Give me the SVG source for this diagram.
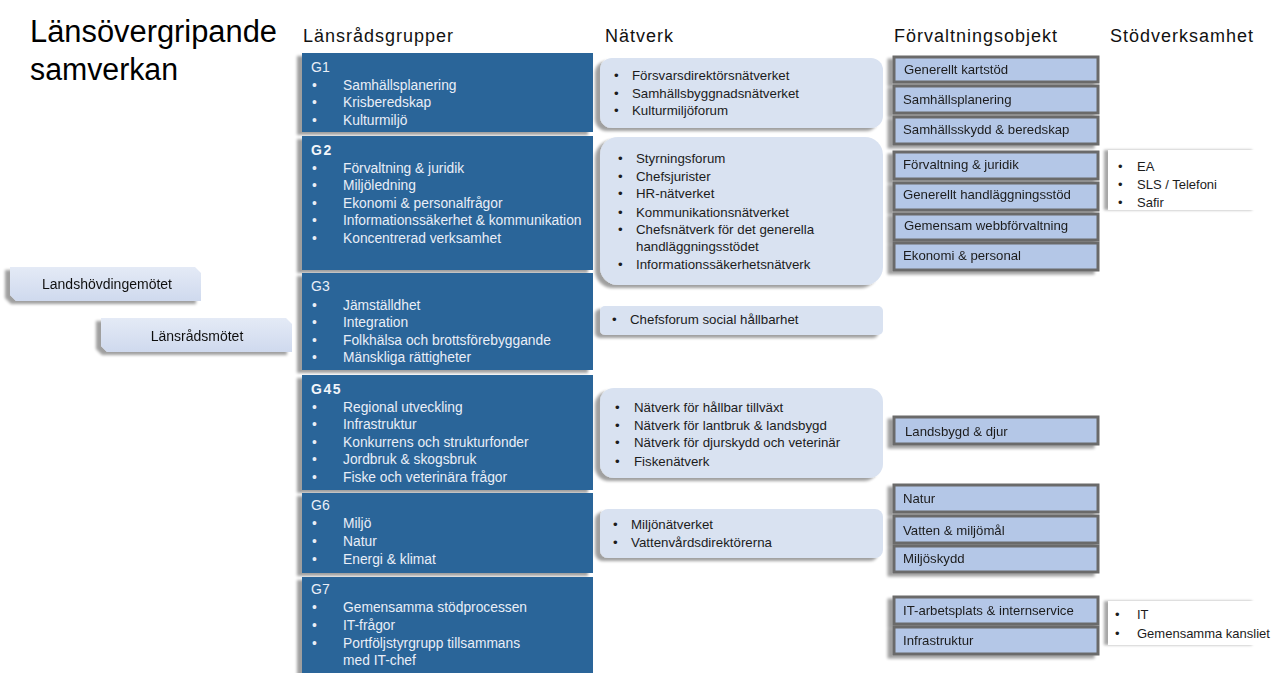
<svg xmlns="http://www.w3.org/2000/svg" width="1274" height="673" viewBox="0 0 1274 673">
<defs>
<filter id="sh" x="-20%" y="-30%" width="140%" height="180%">
<feGaussianBlur in="SourceAlpha" stdDeviation="1.5"/>
<feOffset dx="-5" dy="3" result="o"/>
<feComponentTransfer><feFuncA type="linear" slope="0.38"/></feComponentTransfer>
<feMerge><feMergeNode/><feMergeNode in="SourceGraphic"/></feMerge>
</filter>
<filter id="shl" x="-20%" y="-30%" width="140%" height="160%">
<feGaussianBlur in="SourceAlpha" stdDeviation="1.5"/>
<feOffset dx="-4" dy="0"/>
<feComponentTransfer><feFuncA type="linear" slope="0.35"/></feComponentTransfer>
<feMerge><feMergeNode/><feMergeNode in="SourceGraphic"/></feMerge>
</filter>
<linearGradient id="lg" x1="0" y1="0" x2="0" y2="1">
<stop offset="0" stop-color="#e4eaf6"/>
<stop offset="1" stop-color="#cfd9ee"/>
</linearGradient>
</defs>
<style>
text{font-family:"Liberation Sans",Arial,sans-serif;}
.title{font-size:31px;fill:#000;}
.hdr{font-size:18px;fill:#111;letter-spacing:1px;}
.grp{fill:#2b6599;}
.gt{font-size:13.8px;fill:#e9eef7;}
.gb{font-size:14px;fill:#f2f5fa;font-weight:bold;letter-spacing:1.5px;}
.gl{font-size:14px;fill:#e9eef7;}
.net{fill:#d9e2f1;}
.nt{font-size:13.3px;fill:#1c1c1c;}
.obj{fill:#b4c7e7;stroke:#6b6b6b;stroke-width:3;}
.ot{font-size:13.2px;fill:#1c1c1c;}
.meet{fill:url(#lg);}
.mt{font-size:14px;fill:#111;text-anchor:middle;}
.st{font-size:13px;fill:#1c1c1c;}
</style>
<rect width="1274" height="673" fill="#fff"/>

<g id="title">
<text class="title" x="30" y="42" textLength="247" lengthAdjust="spacingAndGlyphs">Länsövergripande</text>
<text class="title" x="30" y="80" textLength="148" lengthAdjust="spacingAndGlyphs">samverkan</text>
</g>

<g id="headers">
<text class="hdr" x="303" y="42">Länsrådsgrupper</text>
<text class="hdr" x="605" y="42">Nätverk</text>
<text class="hdr" x="894" y="42">Förvaltningsobjekt</text>
<text class="hdr" x="1110" y="42">Stödverksamhet</text>
</g>

<g id="meetings">
<g id="landshovdingemotet" filter="url(#sh)">
<path class="meet" d="M10,267 H195 L201,273 V301 H16 L10,295 Z"/>
<text class="mt" x="107" y="289">Landshövdingemötet</text>
</g>
<g id="lansradsmotet" filter="url(#sh)">
<path class="meet" d="M101,318 H286 L292,324 V352 H107 L101,346 Z"/>
<text class="mt" x="197" y="341">Länsrådsmötet</text>
</g>
</g>

<g id="groups">
<g id="G1">
<rect class="grp" x="302" y="53" width="291" height="79" filter="url(#sh)"/>
<text class="gl" x="311" y="72">G1</text>
<text class="gt" x="312" y="90">•</text><text class="gt" x="343" y="90">Samhällsplanering</text>
<text class="gt" x="312" y="107">•</text><text class="gt" x="343" y="107">Krisberedskap</text>
<text class="gt" x="312" y="125">•</text><text class="gt" x="343" y="125">Kulturmiljö</text>
</g>
<g id="G2">
<rect class="grp" x="302" y="136" width="291" height="134" filter="url(#sh)"/>
<text class="gb" x="311" y="155">G2</text>
<text class="gt" x="312" y="173">•</text><text class="gt" x="343" y="173">Förvaltning &amp; juridik</text>
<text class="gt" x="312" y="190">•</text><text class="gt" x="343" y="190">Miljöledning</text>
<text class="gt" x="312" y="208">•</text><text class="gt" x="343" y="208">Ekonomi &amp; personalfrågor</text>
<text class="gt" x="312" y="225">•</text><text class="gt" x="343" y="225">Informationssäkerhet &amp; kommunikation</text>
<text class="gt" x="312" y="243">•</text><text class="gt" x="343" y="243">Koncentrerad verksamhet</text>
</g>
<g id="G3">
<rect class="grp" x="302" y="273" width="291" height="97" filter="url(#sh)"/>
<text class="gl" x="311" y="291">G3</text>
<text class="gt" x="312" y="310">•</text><text class="gt" x="343" y="310">Jämställdhet</text>
<text class="gt" x="312" y="327">•</text><text class="gt" x="343" y="327">Integration</text>
<text class="gt" x="312" y="345">•</text><text class="gt" x="343" y="345">Folkhälsa och brottsförebyggande</text>
<text class="gt" x="312" y="362">•</text><text class="gt" x="343" y="362">Mänskliga rättigheter</text>
</g>
<g id="G45">
<rect class="grp" x="302" y="375" width="291" height="115" filter="url(#sh)"/>
<text class="gb" x="311" y="394">G45</text>
<text class="gt" x="312" y="412">•</text><text class="gt" x="343" y="412">Regional utveckling</text>
<text class="gt" x="312" y="429">•</text><text class="gt" x="343" y="429">Infrastruktur</text>
<text class="gt" x="312" y="447">•</text><text class="gt" x="343" y="447">Konkurrens och strukturfonder</text>
<text class="gt" x="312" y="464">•</text><text class="gt" x="343" y="464">Jordbruk &amp; skogsbruk</text>
<text class="gt" x="312" y="482">•</text><text class="gt" x="343" y="482">Fiske och veterinära frågor</text>
</g>
<g id="G6">
<rect class="grp" x="302" y="493" width="291" height="80" filter="url(#sh)"/>
<text class="gl" x="311" y="510">G6</text>
<text class="gt" x="312" y="528">•</text><text class="gt" x="343" y="528">Miljö</text>
<text class="gt" x="312" y="546">•</text><text class="gt" x="343" y="546">Natur</text>
<text class="gt" x="312" y="564">•</text><text class="gt" x="343" y="564">Energi &amp; klimat</text>
</g>
<g id="G7">
<rect class="grp" x="302" y="577" width="291" height="96" filter="url(#sh)"/>
<text class="gl" x="311" y="594">G7</text>
<text class="gt" x="312" y="612">•</text><text class="gt" x="343" y="612">Gemensamma stödprocessen</text>
<text class="gt" x="312" y="630">•</text><text class="gt" x="343" y="630">IT-frågor</text>
<text class="gt" x="312" y="648">•</text><text class="gt" x="343" y="648">Portföljstyrgrupp tillsammans</text>
<text class="gt" x="343" y="665">med IT-chef</text>
</g>
</g>

<g id="networks">
<g id="net1">
<rect class="net" x="600" y="58" width="283" height="70" rx="12" filter="url(#sh)"/>
<text class="nt" x="614" y="80">•</text><text class="nt" x="632" y="80">Försvarsdirektörsnätverket</text>
<text class="nt" x="614" y="98">•</text><text class="nt" x="632" y="98">Samhällsbyggnadsnätverket</text>
<text class="nt" x="614" y="115">•</text><text class="nt" x="632" y="115">Kulturmiljöforum</text>
</g>
<g id="net2">
<rect class="net" x="600" y="137" width="283" height="148" rx="18" filter="url(#sh)"/>
<text class="nt" x="618" y="163">•</text><text class="nt" x="636" y="163">Styrningsforum</text>
<text class="nt" x="618" y="181">•</text><text class="nt" x="636" y="181">Chefsjurister</text>
<text class="nt" x="618" y="198">•</text><text class="nt" x="636" y="198">HR-nätverket</text>
<text class="nt" x="618" y="217">•</text><text class="nt" x="636" y="217">Kommunikationsnätverket</text>
<text class="nt" x="618" y="234">•</text><text class="nt" x="636" y="234">Chefsnätverk för det generella</text>
<text class="nt" x="636" y="251">handläggningsstödet</text>
<text class="nt" x="618" y="269">•</text><text class="nt" x="636" y="269">Informationssäkerhetsnätverk</text>
</g>
<g id="net3">
<rect class="net" x="600" y="306" width="283" height="29" rx="5" filter="url(#sh)"/>
<text class="nt" x="612" y="324">•</text><text class="nt" x="630" y="324">Chefsforum social hållbarhet</text>
</g>
<g id="net4">
<rect class="net" x="600" y="388" width="283" height="90" rx="14" filter="url(#sh)"/>
<text class="nt" x="615" y="412">•</text><text class="nt" x="634" y="412">Nätverk för hållbar tillväxt</text>
<text class="nt" x="615" y="430">•</text><text class="nt" x="634" y="430">Nätverk för lantbruk &amp; landsbygd</text>
<text class="nt" x="615" y="447">•</text><text class="nt" x="634" y="447">Nätverk för djurskydd och veterinär</text>
<text class="nt" x="615" y="466">•</text><text class="nt" x="634" y="466">Fiskenätverk</text>
</g>
<g id="net5">
<rect class="net" x="600" y="509" width="283" height="49" rx="8" filter="url(#sh)"/>
<text class="nt" x="613" y="529">•</text><text class="nt" x="631" y="529">Miljönätverket</text>
<text class="nt" x="613" y="547">•</text><text class="nt" x="631" y="547">Vattenvårdsdirektörerna</text>
</g>
</g>

<g id="objects">
<g id="obj1" filter="url(#sh)">
<rect class="obj" x="894" y="57" width="204" height="25"/><text class="ot" x="904" y="74">Generellt kartstöd</text>
<rect class="obj" x="894" y="86" width="204" height="27"/><text class="ot" x="903" y="104">Samhällsplanering</text>
<rect class="obj" x="894" y="117" width="204" height="27"/><text class="ot" x="903" y="134">Samhällsskydd &amp; beredskap</text>
</g>
<g id="obj2" filter="url(#sh)">
<rect class="obj" x="894" y="152" width="204" height="27"/><text class="ot" x="903" y="169">Förvaltning &amp; juridik</text>
<rect class="obj" x="894" y="183" width="204" height="27"/><text class="ot" x="903" y="199">Generellt handläggningsstöd</text>
<rect class="obj" x="894" y="214" width="204" height="26"/><text class="ot" x="904" y="230">Gemensam webbförvaltning</text>
<rect class="obj" x="894" y="243" width="204" height="27"/><text class="ot" x="903" y="260">Ekonomi &amp; personal</text>
</g>
<g id="obj3" filter="url(#sh)">
<rect class="obj" x="894" y="417" width="204" height="27"/><text class="ot" x="905" y="436">Landsbygd &amp; djur</text>
</g>
<g id="obj4" filter="url(#sh)">
<rect class="obj" x="894" y="485" width="204" height="27"/><text class="ot" x="903" y="503">Natur</text>
<rect class="obj" x="894" y="516" width="204" height="27"/><text class="ot" x="903" y="535">Vatten &amp; miljömål</text>
<rect class="obj" x="894" y="546" width="204" height="26"/><text class="ot" x="903" y="563">Miljöskydd</text>
</g>
<g id="obj5" filter="url(#sh)">
<rect class="obj" x="894" y="597" width="204" height="27"/><text class="ot" x="903" y="615">IT-arbetsplats &amp; internservice</text>
<rect class="obj" x="894" y="627" width="204" height="27"/><text class="ot" x="903" y="645">Infrastruktur</text>
</g>
</g>

<g id="support">
<g id="sup1">
<rect x="1108" y="150" width="148" height="60" fill="#fff" filter="url(#shl)"/>
<text class="st" x="1118" y="171">•</text><text class="st" x="1137" y="171">EA</text>
<text class="st" x="1118" y="189">•</text><text class="st" x="1137" y="189">SLS / Telefoni</text>
<text class="st" x="1118" y="207">•</text><text class="st" x="1137" y="207">Safir</text>
</g>
<g id="sup2">
<rect x="1108" y="601" width="148" height="44" fill="#fff" filter="url(#shl)"/>
<text class="st" x="1115" y="619">•</text><text class="st" x="1137" y="619">IT</text>
<text class="st" x="1115" y="638">•</text><text class="st" x="1137" y="638">Gemensamma kansliet</text>
</g>
</g>
<g id="connectors"/>
</svg>
